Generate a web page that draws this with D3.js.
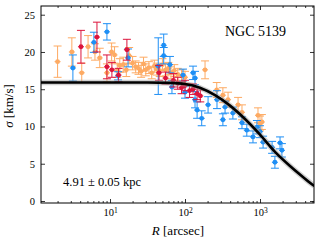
<!DOCTYPE html>
<html>
<head>
<meta charset="utf-8">
<script src="https://d3js.org/d3.v7.min.js"></script>
<style>
  body { margin: 0; background: #fff; }
  svg text { font-family: "Liberation Serif", "DejaVu Serif", serif; fill: #000; }
  .axis .domain { stroke: none; }
  .axis line { stroke: #000; stroke-width: 0.8; }
</style>
</head>
<body>
<svg id="chart" width="320" height="240"></svg>
<script>
// ---- data
const orangeR   = [2.0, 3.1, 4.2, 5.1, 6.3, 7.3, 9.1, 10.5, 11.5, 12.5, 13.5, 15, 16.5, 18, 20, 22, 24, 26, 28, 30, 33, 36, 39, 42, 46, 50, 55, 60, 65, 72, 80, 90, 100, 185, 265, 320, 375, 510, 575, 940, 1000, 1060];
const orangeSig = [18.7, 20.0, 17.2, 20.7, 20.0, 19.2, 17.2, 20.0, 19.6, 17.5, 18.2, 18.3, 17.6, 19.5, 18.5, 18.0, 17.8, 17.4, 18.4, 17.6, 17.9, 17.2, 18.1, 17.7, 17.5, 18.3, 17.6, 17.8, 17.2, 17.5, 17.0, 16.8, 16.6, 17.6, 14.9, 14.2, 13.6, 12.9, 11.9, 11.5, 10.4, 10.6];
const orangeErr = [2.1, 1.9, 1.3, 1.5, 1.1, 1.3, 1.2, 1.2, 1.1, 0.9, 0.9, 1.0, 0.9, 1.1, 0.9, 0.8, 0.8, 0.8, 0.9, 0.8, 0.8, 0.8, 0.8, 0.8, 0.8, 0.8, 0.8, 0.8, 0.8, 0.8, 0.8, 0.8, 0.8, 1.2, 1.0, 1.0, 1.0, 1.0, 1.0, 1.0, 1.0, 1.0];

const redR   = [4.1, 6.7, 9.1, 10.6, 13, 16.8, 45, 55, 70, 80, 90, 100, 115, 128, 145, 160];
const redSig = [20.7, 22.0, 18.0, 17.6, 16.9, 20.3, 17.2, 16.5, 16.2, 15.8, 15.2, 15.5, 14.8, 15.0, 14.4, 14.1];
const redErr = [2.2, 2.0, 1.6, 1.0, 0.9, 1.4, 1.0, 0.8, 0.9, 0.8, 0.8, 0.7, 0.9, 0.7, 0.8, 0.8];

const blueR   = [3.2, 6.1, 9.1, 12.8, 17.4, 44, 52, 52, 63, 67, 94, 100, 128, 136, 136, 145, 167, 203, 267, 320, 342, 435, 575, 667, 806, 910, 1000, 1100, 1450, 1580, 1850, 1960];
const blueSig = [17.85, 21.3, 22.7, 16.8, 19.2, 18.1, 20.9, 19.5, 18.3, 15.3, 16.9, 14.6, 17.2, 16.5, 13.6, 12.2, 11.1, 12.9, 13.6, 10.9, 12.6, 11.8, 10.5, 9.5, 8.6, 9.9, 9.3, 7.9, 7.2, 5.2, 7.8, 6.8];
const blueErr = [1.75, 1.35, 1.1, 0.55, 1.2, 3.8, 1.5, 1.1, 1.1, 0.9, 0.8, 0.8, 0.9, 0.9, 1.1, 1.1, 1.0, 1.1, 1.2, 0.8, 0.8, 0.8, 0.8, 0.8, 0.8, 0.9, 0.8, 0.8, 0.8, 0.8, 0.8, 0.9];

// model curve
const modelR   = [1.2, 31.6, 63.1, 100, 158, 251, 398, 631, 1000, 1585, 2512, 3981, 5300];
const modelSig = [15.9, 15.9, 15.85, 15.7, 15.2, 14.2, 12.8, 11.0, 8.9, 6.6, 4.7, 3.0, 2.0];

const xMajor = [10, 100, 1000];
const yTicks = [0, 5, 10, 15, 20, 25];

// ---- layout
const svg = d3.select("svg#chart");
const margin = { top: 6, right: 6, bottom: 37, left: 41 };
const width = 320, height = 240;
const chartWidth = width - margin.left - margin.right;
const chartHeight = height - margin.top - margin.bottom;

const xScale = d3.scaleLog().domain([1.202, 5248]).range([0, chartWidth]);
const yScale = d3.scaleLinear().domain([-0.27, 26.17]).range([chartHeight, 0]);

const defs = svg.append("defs");
defs.append("clipPath").attr("id", "clip")
  .append("rect").attr("width", chartWidth).attr("height", chartHeight);

const chartArea = svg.append("g")
  .attr("transform", `translate(${margin.left},${margin.top})`);
const plot = chartArea.append("g").attr("clip-path", "url(#clip)");

// minor ticks for the log axis
let xMinor = [];
[1, 10, 100, 1000].forEach(dec => {
  for (let k = 2; k <= 9; k++) {
    const v = dec * k;
    if (v > 1.202 && v < 5248) xMinor.push(v);
  }
});

// ---- data points with error bars
function drawSeries(R, S, E, color) {
  const g = plot.append("g");
  R.forEach((r, i) => {
    const cx = xScale(r), cy = yScale(S[i]);
    const y0 = yScale(S[i] - E[i]), y1 = yScale(S[i] + E[i]);
    g.append("line").attr("x1", cx).attr("x2", cx).attr("y1", y0).attr("y2", y1)
      .attr("stroke", color).attr("stroke-width", 1);
    g.append("line").attr("x1", cx - 4).attr("x2", cx + 4).attr("y1", y0).attr("y2", y0)
      .attr("stroke", color).attr("stroke-width", 1);
    g.append("line").attr("x1", cx - 4).attr("x2", cx + 4).attr("y1", y1).attr("y2", y1)
      .attr("stroke", color).attr("stroke-width", 1);
    g.append("line").attr("x1", cx - 3).attr("x2", cx + 3).attr("y1", cy).attr("y2", cy)
      .attr("stroke", color).attr("stroke-width", 1);
    g.append("circle").attr("cx", cx).attr("cy", cy).attr("r", 2.4).attr("fill", color);
  });
}
drawSeries(orangeR, orangeSig, orangeErr, "#fdaa63");
drawSeries(blueR, blueSig, blueErr, "#1e8ff5");
drawSeries(redR, redSig, redErr, "#dc143c");

// ---- model line with grey halo
const line = d3.line()
  .x((d, i) => xScale(modelR[i]))
  .y((d, i) => yScale(modelSig[i]))
  .curve(d3.curveMonotoneX);
plot.append("path").datum(modelSig).attr("d", line)
  .attr("fill", "none").attr("stroke", "#999").attr("stroke-opacity", 0.45).attr("stroke-width", 5.5);
plot.append("path").datum(modelSig).attr("d", line)
  .attr("fill", "none").attr("stroke", "#000").attr("stroke-width", 2.6);

// ---- axes (inward ticks, all four sides)
const bottom = chartArea.append("g").attr("class", "axis")
  .attr("transform", `translate(0,${chartHeight})`)
  .call(d3.axisBottom(xScale).tickValues(xMajor).tickSize(-4).tickSizeOuter(0).tickPadding(6));
bottom.selectAll(".tick text").text(null).attr("font-size", 10.5)
  .each(function (d) {
    const t = d3.select(this);
    t.append("tspan").text("10");
    t.append("tspan").attr("dy", "-0.4em").attr("font-size", 7.5).text(Math.round(Math.log10(d)));
  });
chartArea.append("g").attr("class", "axis")
  .attr("transform", `translate(0,${chartHeight})`)
  .call(d3.axisBottom(xScale).tickValues(xMinor).tickSize(-2).tickSizeOuter(0).tickFormat(""));
chartArea.append("g").attr("class", "axis")
  .call(d3.axisTop(xScale).tickValues(xMajor).tickSize(-4).tickSizeOuter(0).tickFormat(""));
chartArea.append("g").attr("class", "axis")
  .call(d3.axisTop(xScale).tickValues(xMinor).tickSize(-2).tickSizeOuter(0).tickFormat(""));

chartArea.append("g").attr("class", "axis")
  .call(d3.axisLeft(yScale).tickValues(yTicks).tickSize(-4).tickSizeOuter(0).tickPadding(6))
  .selectAll(".tick text").attr("font-size", 10.5);
chartArea.append("g").attr("class", "axis")
  .attr("transform", `translate(${chartWidth},0)`)
  .call(d3.axisRight(yScale).tickValues(yTicks).tickSize(-4).tickSizeOuter(0).tickFormat(""));

// frame
chartArea.append("rect").attr("width", chartWidth).attr("height", chartHeight)
  .attr("fill", "none").attr("stroke", "#000").attr("stroke-width", 1);

// ---- labels
chartArea.append("text").attr("x", chartWidth - 28).attr("y", 30)
  .attr("text-anchor", "end").attr("font-size", 14).text("NGC 5139");
chartArea.append("text").attr("x", 22).attr("y", 180)
  .attr("font-size", 12.5).text("4.91 ± 0.05 kpc");

const xl = svg.append("text").attr("x", margin.left + 137).attr("y", 235)
  .attr("text-anchor", "middle").attr("font-size", 13);
xl.append("tspan").attr("font-style", "italic").text("R");
xl.append("tspan").text(" [arcsec]");

const yl = svg.append("text")
  .attr("transform", `translate(13,${margin.top + 100}) rotate(-90)`)
  .attr("text-anchor", "middle").attr("font-size", 13);
yl.append("tspan").attr("font-style", "italic").text("σ");
yl.append("tspan").text(" [km/s]");
</script>
</body>
</html>
